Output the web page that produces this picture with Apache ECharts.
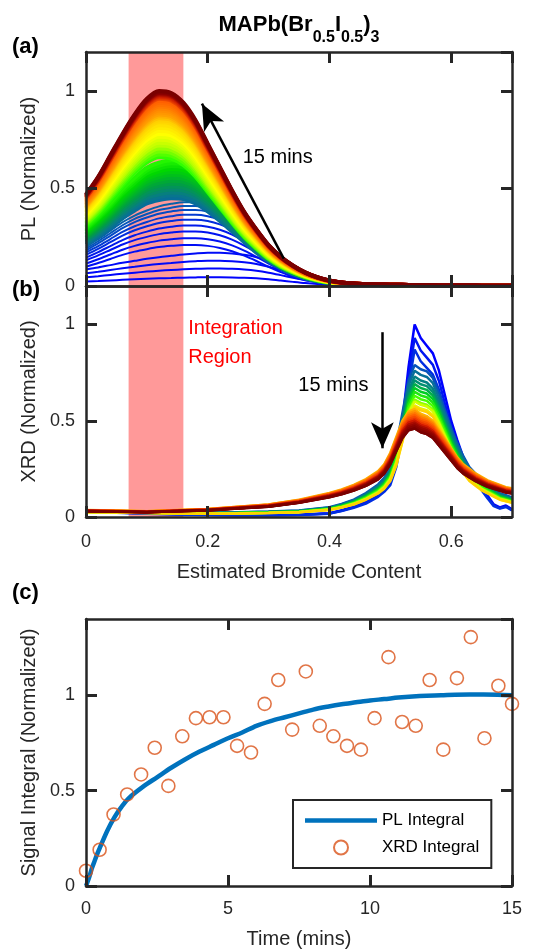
<!DOCTYPE html>
<html>
<head>
<meta charset="utf-8">
<title>MAPb(Br0.5I0.5)3</title>
<script src="https://cdn.jsdelivr.net/npm/echarts@6/dist/echarts.min.js"></script>
<style>
  html, body { margin: 0; padding: 0; background: #fff; }
  #chart { width: 549px; height: 951px; }
</style>
</head>
<body>
<div id="chart"></div>
<script>
// ---- (a) PL spectra vs estimated bromide content ----
const plX = [0, 0.02, 0.04, 0.06, 0.08, 0.1, 0.12, 0.14, 0.16, 0.18, 0.2, 0.22, 0.24, 0.26, 0.28, 0.3,
  0.32, 0.34, 0.36, 0.38, 0.4, 0.42, 0.44, 0.46, 0.48, 0.5, 0.52, 0.54, 0.56, 0.58, 0.6, 0.62, 0.64,
  0.66, 0.68, 0.7]
// normalised spectral shapes (earliest -> latest)
const plShapeBroad = [0.5, 0.56, 0.63, 0.7, 0.76, 0.82, 0.87, 0.91, 0.95, 0.98, 1.0, 1.0, 0.98, 0.94,
  0.87, 0.76, 0.62, 0.47, 0.33, 0.22, 0.14, 0.09, 0.06, 0.045, 0.035, 0.03, 0.026, 0.022, 0.019,
  0.016, 0.013, 0.01, 0.008, 0.006, 0.004, 0.003]
const plShapeBlue = [0.47, 0.56, 0.66, 0.76, 0.84, 0.9, 0.95, 0.98, 1.0, 1.0, 0.98, 0.93, 0.85, 0.74,
  0.61, 0.47, 0.34, 0.225, 0.145, 0.095, 0.06, 0.04, 0.028, 0.021, 0.017, 0.014, 0.012, 0.01, 0.009,
  0.008, 0.007, 0.006, 0.005, 0.004, 0.003, 0.002]
const plShapeGreen = [0.47, 0.56, 0.66, 0.77, 0.86, 0.94, 0.98, 1.0, 0.99, 0.94, 0.85, 0.74, 0.62, 0.5,
  0.38, 0.28, 0.2, 0.135, 0.088, 0.055, 0.034, 0.023, 0.016, 0.012, 0.01, 0.008, 0.007, 0.006, 0.005,
  0.004, 0.003, 0.003, 0.002, 0.002, 0.001, 0.001]
const plShapeFinal = [0.47, 0.56, 0.67, 0.78, 0.88, 0.96, 1.0, 0.99, 0.94, 0.85, 0.73, 0.61, 0.49, 0.38,
  0.29, 0.21, 0.15, 0.105, 0.07, 0.045, 0.028, 0.018, 0.013, 0.01, 0.008, 0.007, 0.006, 0.005, 0.004,
  0.003, 0.003, 0.002, 0.002, 0.001, 0.001, 0.001]
// peak height of each PL spectrum, in time order
const plPeak = [0.045, 0.09, 0.13, 0.17,
  0.21, 0.245, 0.28, 0.31, 0.34, 0.365, 0.39, 0.41, 0.43,
  0.45, 0.465, 0.48, 0.495, 0.51, 0.525, 0.54, 0.555, 0.57, 0.585, 0.6, 0.615, 0.63, 0.645,
  0.66, 0.675, 0.69, 0.705, 0.72, 0.735, 0.75, 0.765, 0.78, 0.795, 0.81, 0.825, 0.84, 0.85, 0.86,
  0.87, 0.88, 0.89, 0.9, 0.91, 0.92, 0.93, 0.94, 0.95, 0.96, 0.965, 0.97, 0.975, 0.98, 0.985, 0.99,
  0.995, 1.0]

// ---- (b) XRD scans ----
const xrdX = [0, 0.05, 0.1, 0.15, 0.2, 0.25, 0.3, 0.35, 0.4, 0.42, 0.44, 0.46, 0.48, 0.49, 0.5, 0.51,
  0.52, 0.53, 0.54, 0.55, 0.56, 0.57, 0.58, 0.59, 0.6, 0.61, 0.62, 0.63, 0.64, 0.65, 0.66, 0.67, 0.68,
  0.69, 0.7]
const xrdShapeStart = [0.03, 0.025, 0.02, 0.015, 0.012, 0.01, 0.01, 0.012, 0.02, 0.035, 0.055, 0.08, 0.12,
  0.15, 0.19, 0.3, 0.5, 0.78, 1.0, 0.93, 0.89, 0.85, 0.76, 0.63, 0.5, 0.4, 0.31, 0.25, 0.2, 0.16,
  0.11, 0.065, 0.05, 0.06, 0.04]
const xrdShapeMid = [0.03, 0.028, 0.025, 0.022, 0.02, 0.022, 0.025, 0.03, 0.045, 0.06, 0.08, 0.11, 0.15,
  0.18, 0.23, 0.33, 0.48, 0.63, 0.7, 0.68, 0.67, 0.64, 0.57, 0.49, 0.41, 0.34, 0.28, 0.23, 0.2, 0.17,
  0.15, 0.13, 0.11, 0.1, 0.09]
const xrdShapeEnd = [0.03, 0.028, 0.025, 0.03, 0.035, 0.045, 0.055, 0.075, 0.105, 0.12, 0.14, 0.165, 0.2,
  0.23, 0.28, 0.35, 0.42, 0.46, 0.47, 0.45, 0.44, 0.42, 0.38, 0.34, 0.3, 0.26, 0.23, 0.21, 0.19,
  0.175, 0.16, 0.15, 0.14, 0.13, 0.125]
const xrdPeak = [1.0, 0.93, 0.87, 0.79, 0.76, 0.73, 0.71, 0.69, 0.67, 0.65, 0.63, 0.61, 0.6, 0.58, 0.57,
  0.56, 0.55, 0.54, 0.53, 0.52, 0.51, 0.5, 0.5, 0.49, 0.49, 0.48, 0.48, 0.47, 0.47, 0.46, 0.46]

const integrationRegion = [0.07, 0.16]

// ---- (c) integrals vs time ----
const plTime = [0, 0.1, 0.2, 0.3, 0.4, 0.5, 0.75, 1, 1.25, 1.5, 2, 2.5, 3, 3.5, 4, 4.5, 5, 5.5, 6, 6.5,
  7, 7.5, 8, 8.5, 9, 9.5, 10, 10.5, 11, 11.5, 12, 12.5, 13, 13.5, 14, 14.5, 15]
const plIntegral = [0, 0.04, 0.09, 0.13, 0.17, 0.205, 0.29, 0.36, 0.415, 0.46, 0.52, 0.57, 0.62, 0.665,
  0.705, 0.74, 0.775, 0.805, 0.84, 0.865, 0.885, 0.905, 0.925, 0.94, 0.953, 0.963, 0.973, 0.98, 0.988,
  0.994, 0.998, 1.0, 1.003, 1.004, 1.004, 1.003, 1.0]
const xrdTime = [0, 0.48, 0.97, 1.45, 1.94, 2.42, 2.9, 3.39, 3.87, 4.35, 4.84, 5.32, 5.81, 6.29, 6.77,
  7.26, 7.74, 8.23, 8.71, 9.19, 9.68, 10.16, 10.65, 11.13, 11.61, 12.1, 12.58, 13.06, 13.55, 14.03,
  14.52, 15]
const xrdIntegral = [0.08, 0.19, 0.375, 0.48, 0.585, 0.725, 0.525, 0.785, 0.88, 0.885, 0.885, 0.735, 0.7,
  0.955, 1.08, 0.82, 1.125, 0.84, 0.785, 0.735, 0.715, 0.88, 1.2, 0.86, 0.84, 1.08, 0.715, 1.09, 1.305,
  0.775, 1.05, 0.955]

const ink = '#262626'
const font = '"Liberation Sans", Arial, Helvetica, sans-serif'
const pink = '#ff9999'

const plColors = [[0, '#0000ff'], [0.3, '#0014f0'], [0.4, '#0650c0'], [0.47, '#08788a'], [0.53, '#00a040'],
  [0.6, '#00d800'], [0.66, '#30ff00'], [0.72, '#b8ff00'], [0.78, '#ffff00'], [0.85, '#ffd000'],
  [0.88, '#ffa000'], [0.95, '#ff6000'], [0.975, '#d02000'], [0.99, '#900000'], [1.0, '#7a0000']]
const xrdColors = [[0, '#0000ff'], [0.07, '#0030e0'], [0.12, '#0a6aa0'], [0.2, '#009070'], [0.27, '#00d020'],
  [0.33, '#40ff00'], [0.4, '#d0ff00'], [0.45, '#ffe000'], [0.52, '#ffa000'], [0.6, '#ff6000'],
  [0.7, '#e02000'], [0.82, '#a00800'], [1.0, '#7a0000']]

function hexRgb(h) {
  return [1, 3, 5].map((i) => parseInt(h.slice(i, i + 2), 16))
}
function ramp(stops, t) {
  for (let i = 1; i < stops.length; i++) {
    if (t <= stops[i][0]) {
      const k = (t - stops[i - 1][0]) / (stops[i][0] - stops[i - 1][0])
      const a = hexRgb(stops[i - 1][1])
      const b = hexRgb(stops[i][1])
      return 'rgb(' + a.map((v, j) => Math.round(v + (b[j] - v) * k)).join(',') + ')'
    }
  }
  return stops[stops.length - 1][1]
}

function frameAxis(gridIndex, position, min, max, interval, extra) {
  return Object.assign({
    type: 'value', gridIndex, position, min, max, interval, z: 10,
    axisLine: { show: true, onZero: false, lineStyle: { color: ink, width: 2.5 } },
    axisTick: { show: true, inside: true, length: 11, lineStyle: { color: ink, width: 3 } },
    axisLabel: { show: false },
    splitLine: { show: false }
  }, extra)
}
const tickLabel = (margin, hideMax) => ({
  show: true, margin, fontSize: 18, color: ink, fontFamily: font, showMaxLabel: !hideMax
})
const axisName = (name, gap) => ({
  name, nameLocation: 'middle', nameGap: gap,
  nameTextStyle: { fontSize: 20, color: ink, fontFamily: font }
})

const xAxis = [
  frameAxis(0, 'bottom', 0, 0.7, 0.2),
  frameAxis(0, 'top', 0, 0.7, 0.2),
  frameAxis(1, 'bottom', 0, 0.7, 0.2,
    Object.assign({ axisLabel: tickLabel(16, true) }, axisName('Estimated Bromide Content', 45))),
  frameAxis(1, 'top', 0, 0.7, 0.2),
  frameAxis(2, 'bottom', 0, 15, 5,
    Object.assign({ axisLabel: tickLabel(14, false) }, axisName('Time (mins)', 43))),
  frameAxis(2, 'top', 0, 15, 5)
]
const yAxis = [
  frameAxis(0, 'left', 0, 1.2, 0.5,
    Object.assign({ axisLabel: tickLabel(11, true) }, axisName('PL (Normalized)', 44))),
  frameAxis(0, 'right', 0, 1.2, 0.5),
  frameAxis(1, 'left', 0, 1.2, 0.5,
    Object.assign({ axisLabel: tickLabel(11, true) }, axisName('XRD (Normalized)', 44))),
  frameAxis(1, 'right', 0, 1.2, 0.5),
  frameAxis(2, 'left', 0, 1.4, 0.5,
    Object.assign({ axisLabel: tickLabel(11, true) }, axisName('Signal Integral (Normalized)', 44))),
  frameAxis(2, 'right', 0, 1.4, 0.5)
]

// arrow head is centred on the line end, so the end sits half a head short of the tip
function arrow(from, to) {
  return {
    silent: true,
    symbol: ['none', 'arrow'],
    symbolSize: [17, 26],
    lineStyle: { color: '#000', width: 2.5, type: 'solid' },
    label: { show: false },
    emphasis: { disabled: true },
    data: [[{ coord: from }, { coord: to }]]
  }
}
const band = {
  silent: true,
  itemStyle: { color: pink },
  data: [[{ xAxis: integrationRegion[0] }, { xAxis: integrationRegion[1] }]]
}

const getPlSeries = () => plPeak.map((amp) => {
  const shape = amp < 0.2 ? plShapeBroad : amp < 0.44 ? plShapeBlue : amp < 0.655 ? plShapeGreen : plShapeFinal
  return {
    type: 'line', xAxisIndex: 0, yAxisIndex: 0, z: 2, silent: true,
    showSymbol: false, symbol: 'none', smooth: 0.3,
    data: plX.map((x, i) => [x, shape[i] * amp]),
    lineStyle: { color: ramp(plColors, amp), width: amp < 0.44 ? 2 : 4 }
  }
})

const getXrdSeries = () => xrdPeak.map((amp, k) => {
  const shape = amp >= 0.85 ? xrdShapeStart : amp >= 0.57 ? xrdShapeMid : xrdShapeEnd
  const ref = Math.max(...shape)
  return {
    type: 'line', xAxisIndex: 2, yAxisIndex: 2, z: 2, silent: true,
    showSymbol: false, symbol: 'none',
    data: xrdX.map((x, i) => [x, shape[i] * amp / ref]),
    lineStyle: { color: ramp(xrdColors, k / (xrdPeak.length - 1)), width: 2.5 }
  }
})

const series = [
  { type: 'line', xAxisIndex: 0, yAxisIndex: 0, data: [], markArea: band,
    markLine: arrow([0.325, 0.14], [0.1905, 0.935]) },
  ...getPlSeries(),
  { type: 'line', xAxisIndex: 2, yAxisIndex: 2, data: [], markArea: band,
    markLine: arrow([0.487, 0.96], [0.487, 0.357]) },
  ...getXrdSeries(),
  {
    name: 'PL Integral', type: 'line', xAxisIndex: 4, yAxisIndex: 4, z: 3,
    showSymbol: false, symbol: 'none', smooth: 0.3,
    data: plTime.map((t, i) => [t, plIntegral[i]]),
    lineStyle: { color: '#0072bd', width: 4.5 }, itemStyle: { color: '#0072bd' }
  },
  {
    name: 'XRD Integral', type: 'scatter', xAxisIndex: 4, yAxisIndex: 4, z: 4, clip: false,
    symbol: 'circle', symbolSize: 13,
    data: xrdTime.map((t, i) => [t, xrdIntegral[i]]),
    itemStyle: { color: 'rgba(0,0,0,0)', borderColor: '#d95319', borderWidth: 1.6 }
  }
]

const chart = echarts.init(document.getElementById('chart'))
chart.setOption({
  animation: false,
  backgroundColor: '#fff',
  textStyle: { fontFamily: font },
  grid: [
    { left: 86, right: 37, top: 52, height: 234 },
    { left: 86, right: 37, top: 286, height: 231 },
    { left: 86, right: 37, top: 619, height: 267 }
  ],
  xAxis,
  yAxis,
  legend: {
    orient: 'vertical', left: 293, top: 800,
    padding: [12, 12, 12, 12], itemGap: 10, itemWidth: 72, itemHeight: 14,
    borderColor: ink, borderWidth: 2, backgroundColor: '#fff',
    selectedMode: false,
    textStyle: { fontSize: 17, color: '#000', fontFamily: font },
    data: [
      { name: 'PL Integral', icon: 'path://M0,0L72,0L72,4.5L0,4.5Z' },
      { name: 'XRD Integral' }
    ]
  },
  series
})

// annotation texts, placed through the axes
const toPx = (seriesIndex, p) => chart.convertToPixel({ seriesIndex }, p)
const xrdHolder = 1 + plPeak.length
const pa = toPx(0, [0.315, 0.66])
const pb = toPx(xrdHolder, [0.464, 0.685])
const pr = toPx(xrdHolder, [0.168, 0.905])
const label = (text, x, y, extra) => ({
  type: 'text', x, y, z: 20, silent: true,
  style: Object.assign({ text, fill: '#000', fontSize: 20, fontFamily: font, verticalAlign: 'middle' }, extra)
})

chart.setOption({
  graphic: [
    {
      type: 'text', x: 299, y: 26, z: 20, silent: true,
      style: {
        text: '{m|MAPb(Br}{s|0.5}{m|I}{s|0.5}{m|)}{s|3}',
        align: 'center', verticalAlign: 'middle', fill: '#000',
        rich: {
          m: { fontSize: 22, fontWeight: 'bold', fontFamily: font, lineHeight: 24, verticalAlign: 'top' },
          s: { fontSize: 16, fontWeight: 'bold', fontFamily: font, lineHeight: 16, padding: [16, 0, 0, 0], verticalAlign: 'top' }
        }
      }
    },
    label('(a)', 12, 47, { fontSize: 22, fontWeight: 'bold' }),
    label('(b)', 12, 290, { fontSize: 22, fontWeight: 'bold' }),
    label('(c)', 12, 593, { fontSize: 22, fontWeight: 'bold' }),
    label('15 mins', pa[0], pa[1], { align: 'center' }),
    label('15 mins', pb[0], pb[1], { align: 'right' }),
    label('Integration\nRegion', pr[0], pr[1], { align: 'left', fill: '#ff0000', lineHeight: 29 })
  ]
})
</script>
</body>
</html>
